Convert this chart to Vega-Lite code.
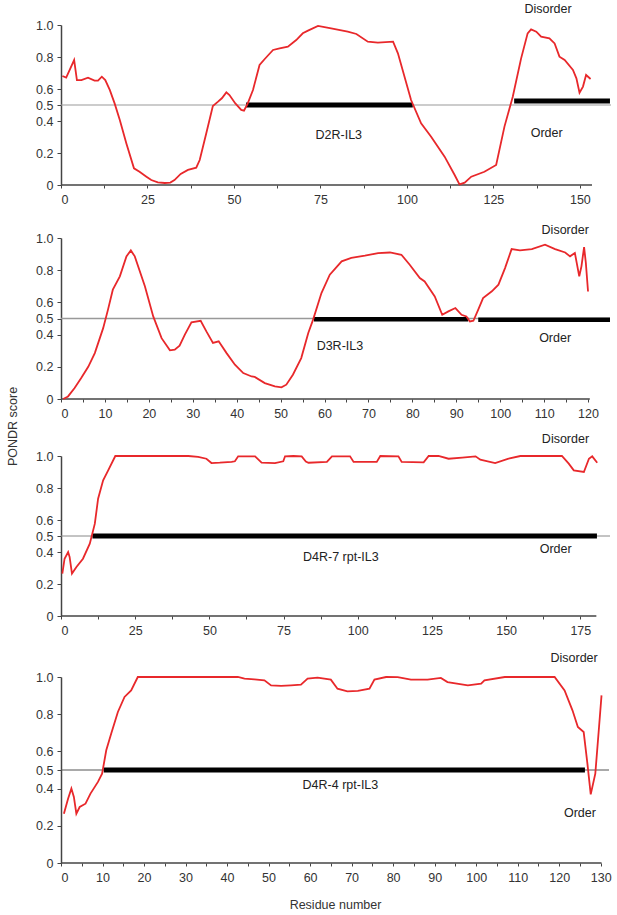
{
  "$schema": "https://vega.github.io/schema/vega-lite/v6.json",
  "padding": {"left": 5, "top": 2, "right": 0, "bottom": 2},
  "bounds": "flush",
  "spacing": 53,
  "config": {
    "view": {"stroke": null},
    "axis": {
      "labelFont": "Liberation Sans", "labelFontSize": 12.5, "labelColor": "#333",
      "titleFont": "Liberation Sans", "titleFontSize": 12.5, "titleFontWeight": "normal", "titleColor": "#333",
      "domainColor": "#444", "domainWidth": 1.5, "tickColor": "#444", "tickWidth": 1, "grid": false
    },
    "text": {"font": "Liberation Sans", "fontSize": 12.5, "color": "#222", "align": "center", "baseline": "middle"}
  },
  "vconcat": [
    {
      "width": 550, "height": 160,
      "encoding": {
        "x": {"field": "x", "type": "quantitative", "scale": {"domain": [0, 159], "nice": false, "zero": false},
              "axis": {"values": [0, 12.5, 25, 37.5, 50, 62.5, 75, 87.5, 100, 112.5, 125, 137.5, 150], "labelExpr": "datum.value % 25 == 0 ? format(datum.value, 'd') : ''", "domain": false, "tickSize": 3, "labelPadding": 5, "title": null}},
        "y": {"field": "y", "type": "quantitative", "scale": {"domain": [0, 1], "nice": false},
              "axis": {"values": [0, 0.2, 0.4, 0.5, 0.6, 0.8, 1], "labelExpr": "datum.value == 0 ? '0' : format(datum.value, '.1f')", "tickSize": 4, "labelPadding": 4, "title": null}}
      },
      "layer": [
        {"data": {"values": [{"x": 0, "x2": 153.5, "y": 0}]}, "mark": {"type": "rule", "color": "#444", "strokeWidth": 1.5}, "encoding": {"x2": {"field": "x2"}}},
        {"data": {"values": [{"x": 0, "x2": 159, "y": 0.5}]}, "mark": {"type": "rule", "color": "#999", "strokeWidth": 1}, "encoding": {"x2": {"field": "x2"}}},
        {"data": {"values": [{"x": 53.5, "x2": 101.7, "y": 0.5}, {"x": 131, "x2": 158.7, "y": 0.525}]}, "mark": {"type": "rule", "color": "#000", "strokeWidth": 5}, "encoding": {"x2": {"field": "x2"}}},
        {"data": {"values": [
          {"x": 0.4, "y": 0.681}, {"x": 1.5, "y": 0.671}, {"x": 3.8, "y": 0.781}, {"x": 4.6, "y": 0.656}, {"x": 5.9, "y": 0.656},
          {"x": 7.8, "y": 0.671}, {"x": 9.7, "y": 0.652}, {"x": 10.7, "y": 0.652}, {"x": 11.8, "y": 0.677}, {"x": 12.8, "y": 0.656},
          {"x": 14.1, "y": 0.594}, {"x": 15.5, "y": 0.51}, {"x": 17, "y": 0.406}, {"x": 18.9, "y": 0.26}, {"x": 21.1, "y": 0.104},
          {"x": 22.7, "y": 0.083}, {"x": 24.7, "y": 0.052}, {"x": 26.1, "y": 0.031}, {"x": 28, "y": 0.017}, {"x": 30, "y": 0.0125},
          {"x": 31.6, "y": 0.015}, {"x": 32.8, "y": 0.031}, {"x": 34.6, "y": 0.069}, {"x": 36.7, "y": 0.094}, {"x": 39.1, "y": 0.108},
          {"x": 40.1, "y": 0.156}, {"x": 42, "y": 0.323}, {"x": 43.9, "y": 0.494}, {"x": 45.4, "y": 0.521}, {"x": 46.5, "y": 0.542},
          {"x": 47.8, "y": 0.579}, {"x": 48.7, "y": 0.5625}, {"x": 50.4, "y": 0.51}, {"x": 52.1, "y": 0.469}, {"x": 52.9, "y": 0.465},
          {"x": 53.9, "y": 0.506}, {"x": 55.5, "y": 0.594}, {"x": 57.4, "y": 0.75}, {"x": 58.9, "y": 0.7875}, {"x": 61.3, "y": 0.844},
          {"x": 63.2, "y": 0.854}, {"x": 65.6, "y": 0.865}, {"x": 68, "y": 0.906}, {"x": 69.9, "y": 0.948}, {"x": 71.4, "y": 0.965},
          {"x": 74.3, "y": 0.994}, {"x": 78.1, "y": 0.979}, {"x": 82.9, "y": 0.958}, {"x": 85.4, "y": 0.944}, {"x": 88.7, "y": 0.896},
          {"x": 91.6, "y": 0.89}, {"x": 96, "y": 0.896}, {"x": 97.4, "y": 0.823}, {"x": 101.2, "y": 0.531}, {"x": 104.1, "y": 0.385},
          {"x": 107, "y": 0.302}, {"x": 110.9, "y": 0.177}, {"x": 113.8, "y": 0.0625}, {"x": 115.2, "y": 0.004}, {"x": 116.7, "y": 0.015},
          {"x": 118.6, "y": 0.052}, {"x": 122.4, "y": 0.083}, {"x": 125.8, "y": 0.125}, {"x": 128.2, "y": 0.365}, {"x": 130.6, "y": 0.552},
          {"x": 133, "y": 0.79}, {"x": 134.9, "y": 0.948}, {"x": 135.9, "y": 0.973}, {"x": 137.4, "y": 0.958}, {"x": 138.8, "y": 0.927},
          {"x": 141.2, "y": 0.917}, {"x": 142.7, "y": 0.885}, {"x": 144.1, "y": 0.802}, {"x": 145.6, "y": 0.781}, {"x": 148, "y": 0.719},
          {"x": 149, "y": 0.667}, {"x": 149.9, "y": 0.577}, {"x": 150.9, "y": 0.615}, {"x": 151.8, "y": 0.6875}, {"x": 153.1, "y": 0.6625}
        ]}, "mark": {"type": "line", "color": "#e8282b", "strokeWidth": 1.8}, "encoding": {}},
        {"data": {"values": [{"x": 80.3, "y": 0.31, "label": "D2R-IL3"}, {"x": 140.8, "y": 1.1, "label": "Disorder"}, {"x": 140.4, "y": 0.325, "label": "Order"}]}, "mark": {"type": "text"}, "encoding": {"text": {"field": "label"}}}
      ]
    },
    {
      "width": 549, "height": 165,
      "encoding": {
        "x": {"field": "x", "type": "quantitative", "scale": {"domain": [0, 125], "nice": false, "zero": false},
              "axis": {"values": [0, 5, 10, 15, 20, 25, 30, 35, 40, 45, 50, 55, 60, 65, 70, 75, 80, 85, 90, 95, 100, 105, 110, 115, 120], "labelExpr": "datum.value % 10 == 0 ? format(datum.value, 'd') : ''", "domain": false, "tickSize": 3, "labelPadding": 5, "title": null, "offset": -4}},
        "y": {"field": "y", "type": "quantitative", "scale": {"domain": [0, 1], "nice": false, "range": [161, 0]},
              "axis": {"values": [0, 0.2, 0.4, 0.5, 0.6, 0.8, 1], "labelExpr": "datum.value == 0 ? '0' : format(datum.value, '.1f')", "tickSize": 4, "labelPadding": 4, "title": null}}
      },
      "layer": [
        {"data": {"values": [{"x": 0, "x2": 120.4, "y": 0}]}, "mark": {"type": "rule", "color": "#444", "strokeWidth": 1.5}, "encoding": {"x2": {"field": "x2"}}},
        {"data": {"values": [{"x": 0, "x2": 125, "y": 0.5}]}, "mark": {"type": "rule", "color": "#999", "strokeWidth": 1.5}, "encoding": {"x2": {"field": "x2"}}},
        {"data": {"values": [{"x": 57.6, "x2": 92.7, "y": 0.495}, {"x": 95, "x2": 125, "y": 0.493}]}, "mark": {"type": "rule", "color": "#000", "strokeWidth": 4.5}, "encoding": {"x2": {"field": "x2"}}},
        {"data": {"values": [
          {"x": 0.5, "y": 0}, {"x": 1.6, "y": 0.016}, {"x": 3.1, "y": 0.068}, {"x": 4.6, "y": 0.13}, {"x": 6.2, "y": 0.2},
          {"x": 7.7, "y": 0.285}, {"x": 9.6, "y": 0.44}, {"x": 10.7, "y": 0.555}, {"x": 11.8, "y": 0.679}, {"x": 13.4, "y": 0.762},
          {"x": 14.9, "y": 0.886}, {"x": 15.9, "y": 0.923}, {"x": 16.8, "y": 0.886}, {"x": 19.1, "y": 0.7}, {"x": 21, "y": 0.513},
          {"x": 22.9, "y": 0.378}, {"x": 24.8, "y": 0.302}, {"x": 25.9, "y": 0.306}, {"x": 27, "y": 0.331}, {"x": 28.2, "y": 0.4},
          {"x": 29.7, "y": 0.476}, {"x": 31.8, "y": 0.486}, {"x": 33.1, "y": 0.42}, {"x": 34.6, "y": 0.348}, {"x": 35.9, "y": 0.358},
          {"x": 37.7, "y": 0.285}, {"x": 39.6, "y": 0.213}, {"x": 41.5, "y": 0.161}, {"x": 43.4, "y": 0.14}, {"x": 44.1, "y": 0.137},
          {"x": 46.4, "y": 0.099}, {"x": 48.7, "y": 0.078}, {"x": 50.2, "y": 0.072}, {"x": 51.3, "y": 0.089}, {"x": 52.8, "y": 0.151},
          {"x": 54.7, "y": 0.254}, {"x": 56.3, "y": 0.41}, {"x": 57.4, "y": 0.493}, {"x": 59.3, "y": 0.658}, {"x": 61.2, "y": 0.772},
          {"x": 63.9, "y": 0.855}, {"x": 66.1, "y": 0.876}, {"x": 69.2, "y": 0.89}, {"x": 72.2, "y": 0.906}, {"x": 74.9, "y": 0.91},
          {"x": 77.5, "y": 0.896}, {"x": 79.4, "y": 0.834}, {"x": 81.7, "y": 0.751}, {"x": 82.8, "y": 0.73}, {"x": 85.1, "y": 0.637},
          {"x": 86.8, "y": 0.523}, {"x": 88.2, "y": 0.544}, {"x": 89.8, "y": 0.565}, {"x": 91.2, "y": 0.523}, {"x": 92.3, "y": 0.513},
          {"x": 93.1, "y": 0.482}, {"x": 93.9, "y": 0.486}, {"x": 95, "y": 0.555}, {"x": 96.1, "y": 0.627}, {"x": 98.1, "y": 0.669},
          {"x": 99.6, "y": 0.71}, {"x": 101.1, "y": 0.813}, {"x": 102.6, "y": 0.931}, {"x": 104.5, "y": 0.923}, {"x": 107.2, "y": 0.931},
          {"x": 110.2, "y": 0.958}, {"x": 112.5, "y": 0.931}, {"x": 114.8, "y": 0.91}, {"x": 115.9, "y": 0.886}, {"x": 117, "y": 0.907},
          {"x": 118, "y": 0.762}, {"x": 118.5, "y": 0.824}, {"x": 119.1, "y": 0.944}, {"x": 119.5, "y": 0.845}, {"x": 120, "y": 0.668}
        ]}, "mark": {"type": "line", "color": "#e8282b", "strokeWidth": 1.8}, "encoding": {}},
        {"data": {"values": [{"x": 63.5, "y": 0.327, "label": "D3R-IL3"}, {"x": 114.8, "y": 1.047, "label": "Disorder"}, {"x": 112.5, "y": 0.38, "label": "Order"}]}, "mark": {"type": "text"}, "encoding": {"text": {"field": "label"}}}
      ]
    },
    {
      "width": 549, "height": 168,
      "encoding": {
        "x": {"field": "x", "type": "quantitative", "scale": {"domain": [0, 185], "nice": false, "zero": false},
              "axis": {"values": [0, 12.5, 25, 37.5, 50, 62.5, 75, 87.5, 100, 112.5, 125, 137.5, 150, 162.5, 175], "labelExpr": "datum.value % 25 == 0 ? format(datum.value, 'd') : ''", "domain": false, "tickSize": 3, "labelPadding": 5, "title": null, "offset": -8}},
        "y": {"field": "y", "type": "quantitative", "scale": {"domain": [0, 1], "nice": false, "range": [160, 0]},
              "axis": {"values": [0, 0.2, 0.4, 0.5, 0.6, 0.8, 1], "labelExpr": "datum.value == 0 ? '0' : format(datum.value, '.1f')", "tickSize": 4, "labelPadding": 4, "title": "PONDR score", "titleX": -42, "titleY": -30}}
      },
      "layer": [
        {"data": {"values": [{"x": 0, "x2": 180.4, "y": 0}]}, "mark": {"type": "rule", "color": "#444", "strokeWidth": 1.5}, "encoding": {"x2": {"field": "x2"}}},
        {"data": {"values": [{"x": 0, "x2": 185, "y": 0.5}]}, "mark": {"type": "rule", "color": "#888", "strokeWidth": 1}, "encoding": {"x2": {"field": "x2"}}},
        {"data": {"values": [{"x": 10.6, "x2": 180.6, "y": 0.5}]}, "mark": {"type": "rule", "color": "#000", "strokeWidth": 5}, "encoding": {"x2": {"field": "x2"}}},
        {"data": {"values": [
          {"x": 0.45, "y": 0.265}, {"x": 1.2, "y": 0.358}, {"x": 2.4, "y": 0.4}, {"x": 2.9, "y": 0.369}, {"x": 3.7, "y": 0.265},
          {"x": 5.2, "y": 0.306}, {"x": 7.4, "y": 0.358}, {"x": 9.7, "y": 0.452}, {"x": 11.4, "y": 0.577}, {"x": 12.5, "y": 0.733},
          {"x": 14.2, "y": 0.848}, {"x": 15.9, "y": 0.91}, {"x": 18.3, "y": 1.0}, {"x": 42.9, "y": 1.0}, {"x": 46.2, "y": 0.994},
          {"x": 49, "y": 0.983}, {"x": 50.7, "y": 0.956}, {"x": 53.5, "y": 0.958}, {"x": 57.5, "y": 0.963}, {"x": 58.6, "y": 0.967},
          {"x": 59.7, "y": 0.998}, {"x": 65.4, "y": 0.998}, {"x": 67.6, "y": 0.958}, {"x": 72.1, "y": 0.956}, {"x": 74.9, "y": 0.967},
          {"x": 75.5, "y": 0.998}, {"x": 78.3, "y": 1.0}, {"x": 81.1, "y": 0.998}, {"x": 82.5, "y": 0.965}, {"x": 83.4, "y": 0.958},
          {"x": 89.6, "y": 0.963}, {"x": 91.3, "y": 0.998}, {"x": 97.4, "y": 0.998}, {"x": 98.6, "y": 0.963}, {"x": 106.4, "y": 0.963},
          {"x": 107.6, "y": 1.0}, {"x": 113.7, "y": 0.998}, {"x": 114.8, "y": 0.963}, {"x": 122.2, "y": 0.96}, {"x": 123.9, "y": 1.0},
          {"x": 127.2, "y": 1.0}, {"x": 130.6, "y": 0.983}, {"x": 135.2, "y": 0.99}, {"x": 139.7, "y": 0.998}, {"x": 141.3, "y": 0.977},
          {"x": 146.3, "y": 0.956}, {"x": 150.8, "y": 0.983}, {"x": 154.8, "y": 1.0}, {"x": 168.8, "y": 1.0}, {"x": 171.1, "y": 0.952},
          {"x": 172.8, "y": 0.91}, {"x": 176.2, "y": 0.9}, {"x": 177.9, "y": 0.983}, {"x": 179, "y": 0.998}, {"x": 180.7, "y": 0.958}
        ]}, "mark": {"type": "line", "color": "#e8282b", "strokeWidth": 1.8}, "encoding": {}},
        {"data": {"values": [{"x": 94.3, "y": 0.369, "label": "D4R-7 rpt-IL3"}, {"x": 170, "y": 1.109, "label": "Disorder"}, {"x": 166.7, "y": 0.417, "label": "Order"}]}, "mark": {"type": "text"}, "encoding": {"text": {"field": "label"}}}
      ]
    },
    {
      "width": 548, "height": 186,
      "encoding": {
        "x": {"field": "x", "type": "quantitative", "scale": {"domain": [0, 132], "nice": false, "zero": false},
              "axis": {"values": [0, 5, 10, 15, 20, 25, 30, 35, 40, 45, 50, 55, 60, 65, 70, 75, 80, 85, 90, 95, 100, 105, 110, 115, 120, 125, 130], "labelExpr": "datum.value % 10 == 0 ? format(datum.value, 'd') : ''", "domain": false, "tickSize": 3, "labelPadding": 5, "title": "Residue number", "titlePadding": 15}},
        "y": {"field": "y", "type": "quantitative", "scale": {"domain": [0, 1], "nice": false},
              "axis": {"values": [0, 0.2, 0.4, 0.5, 0.6, 0.8, 1], "labelExpr": "datum.value == 0 ? '0' : format(datum.value, '.1f')", "tickSize": 4, "labelPadding": 4, "title": null}}
      },
      "layer": [
        {"data": {"values": [{"x": 0, "x2": 130.2, "y": 0}]}, "mark": {"type": "rule", "color": "#444", "strokeWidth": 1.5}, "encoding": {"x2": {"field": "x2"}}},
        {"data": {"values": [{"x": 0, "x2": 132, "y": 0.5}]}, "mark": {"type": "rule", "color": "#555", "strokeWidth": 1.2}, "encoding": {"x2": {"field": "x2"}}},
        {"data": {"values": [{"x": 10.3, "x2": 126.2, "y": 0.5}]}, "mark": {"type": "rule", "color": "#000", "strokeWidth": 5}, "encoding": {"x2": {"field": "x2"}}},
        {"data": {"values": [
          {"x": 0.7, "y": 0.265}, {"x": 1.7, "y": 0.346}, {"x": 2.5, "y": 0.4}, {"x": 3.1, "y": 0.355}, {"x": 3.7, "y": 0.265},
          {"x": 4.5, "y": 0.301}, {"x": 5.9, "y": 0.319}, {"x": 7.1, "y": 0.373}, {"x": 8.9, "y": 0.436}, {"x": 9.9, "y": 0.48},
          {"x": 10.9, "y": 0.606}, {"x": 12.1, "y": 0.696}, {"x": 13.7, "y": 0.812}, {"x": 15.3, "y": 0.893}, {"x": 16.9, "y": 0.928},
          {"x": 18.5, "y": 1.0}, {"x": 42.6, "y": 1.0}, {"x": 44.2, "y": 0.991}, {"x": 46.6, "y": 0.987}, {"x": 49, "y": 0.982},
          {"x": 50.6, "y": 0.955}, {"x": 53, "y": 0.952}, {"x": 55.4, "y": 0.955}, {"x": 57.8, "y": 0.959}, {"x": 59.4, "y": 0.991},
          {"x": 61.8, "y": 0.997}, {"x": 65, "y": 0.986}, {"x": 66.6, "y": 0.937}, {"x": 69, "y": 0.923}, {"x": 71.5, "y": 0.925},
          {"x": 74.3, "y": 0.937}, {"x": 75.5, "y": 0.986}, {"x": 78.3, "y": 1.0}, {"x": 81.1, "y": 0.999}, {"x": 84.3, "y": 0.986},
          {"x": 88.3, "y": 0.986}, {"x": 91.5, "y": 0.995}, {"x": 93.1, "y": 0.973}, {"x": 98, "y": 0.955}, {"x": 101.2, "y": 0.964},
          {"x": 102, "y": 0.982}, {"x": 106.9, "y": 1.0}, {"x": 118.9, "y": 1.0}, {"x": 121.3, "y": 0.928}, {"x": 123.2, "y": 0.821},
          {"x": 124.5, "y": 0.731}, {"x": 125.9, "y": 0.704}, {"x": 126.8, "y": 0.534}, {"x": 127.6, "y": 0.369}, {"x": 128.7, "y": 0.48},
          {"x": 129.6, "y": 0.731}, {"x": 130.2, "y": 0.901}
        ]}, "mark": {"type": "line", "color": "#e8282b", "strokeWidth": 1.8}, "encoding": {}},
        {"data": {"values": [{"x": 67.3, "y": 0.418, "label": "D4R-4 rpt-IL3"}, {"x": 123.6, "y": 1.104, "label": "Disorder"}, {"x": 125, "y": 0.269, "label": "Order"}]}, "mark": {"type": "text"}, "encoding": {"text": {"field": "label"}}}
      ]
    }
  ]
}
